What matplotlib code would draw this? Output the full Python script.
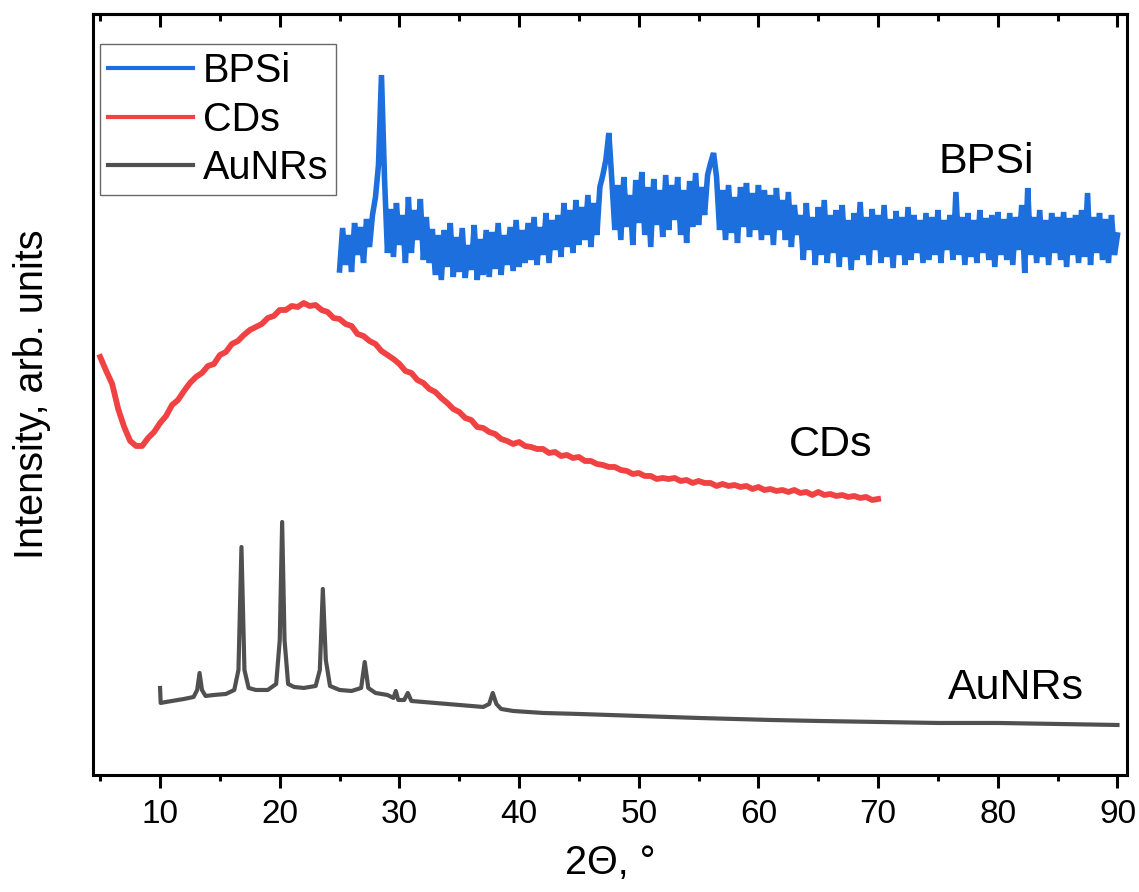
import matplotlib.pyplot as plt
import numpy as np

plt.rcParams['font.family'] = ['Liberation Sans', 'DejaVu Sans']

# AuNRs pattern (2theta, intensity)
aunrs_x = [10.0, 10.05, 10.5, 11.0, 12.0, 12.8, 13.1, 13.3, 13.5, 13.8,
           14.5, 15.5, 16.2, 16.55, 16.8, 17.05, 17.4, 18.0, 19.0, 19.7,
           20.0, 20.2, 20.4, 20.7, 21.2, 22.0, 23.0, 23.35, 23.6, 23.85,
           24.2, 25.0, 26.0, 26.8, 27.1, 27.4, 28.0, 29.0, 29.5, 29.7,
           29.9, 30.4, 30.7, 31.0, 32.0, 33.0, 34.0, 35.0, 36.0, 37.0,
           37.5, 37.8, 38.1, 38.5, 39.5, 42.0, 45.0, 50.0, 55.0, 61.0,
           65.0, 70.0, 75.0, 80.0, 85.0, 90.0]
aunrs_y = [87, 72, 73, 74, 76, 78, 85, 102, 85, 79,
           80, 81, 85, 105, 228, 105, 87, 85, 85, 91,
           135, 253, 135, 91, 88, 87, 89, 105, 186, 115,
           89, 85, 84, 87, 113, 87, 82, 80, 77, 84,
           75, 75, 82, 74, 73, 72, 71, 70, 69, 68,
           71, 82, 71, 66, 64, 62, 61, 59, 57, 55,
           54, 53, 52, 52, 51, 50]

# CDs pattern, 0.5 deg step starting at 5 deg
cds_start, cds_step = 5.0, 0.5
cds_y = [418, 404, 391, 366, 348, 334, 329, 329, 337, 343,
         352, 359, 370, 375, 384, 392, 398, 402, 409, 411,
         420, 423, 431, 434, 440, 445, 448, 451, 457, 459,
         465, 465, 469, 468, 472, 469, 470, 465, 463, 457,
         456, 451, 449, 441, 439, 434, 431, 424, 420, 416,
         411, 404, 402, 395, 392, 386, 383, 377, 372, 366,
         363, 357, 355, 348, 347, 343, 341, 336, 334, 331,
         333, 329, 328, 326, 326, 322, 323, 319, 320, 317,
         318, 314, 314, 311, 310, 308, 308, 305, 304, 301,
         302, 299, 299, 296, 297, 296, 297, 294, 295, 292,
         294, 292, 292, 289, 291, 289, 290, 288, 289, 286,
         288, 285, 286, 284, 285, 283, 285, 282, 283, 280,
         283, 280, 281, 279, 280, 278, 279, 277, 278, 275,
         276]

# BPSi pattern, 0.25 deg step starting at 25 deg
bpsi_start, bpsi_step = 25.0, 0.25
bpsi_y = [505, 547, 510, 540, 503, 552, 520, 548, 512, 556, 528, 560,
          578, 610, 700, 598,
          522, 566, 518, 572, 530, 560, 512, 578, 522, 565, 535, 576, 515, 558,
          512, 546, 500, 540, 495, 545, 508, 552, 498, 538,
          503, 547, 497, 530, 505, 550, 495, 536, 500, 545,
          498, 543, 506, 552, 500, 540, 510, 548, 504, 555,
          508, 545, 512, 552,
          515, 558, 510, 548, 520, 562, 512, 555, 525, 560,
          518, 572, 528, 565, 522, 575, 530, 568, 535, 580,
          528, 572, 540, 588,
          600, 615, 642, 595, 545,
          590, 535, 598, 548, 580, 530, 595, 552, 603, 540,
          588, 528, 596, 550, 585, 538, 600, 545, 590, 555,
          598, 540, 585, 532, 594, 548, 602, 550, 588, 560, 600,
          612, 622, 598, 545,
          585, 535, 590, 542, 578, 532, 588, 548, 592, 538,
          582, 545, 590, 535, 585, 540, 580, 530, 587, 545,
          575, 535, 583, 528, 570, 540,
          560, 515, 572, 525, 558, 510, 568, 520, 575, 512,
          560, 522, 565, 508, 570, 518, 555, 505, 562, 515,
          573, 520, 558, 510, 566, 525, 560, 512, 570, 518,
          556, 507, 564, 520, 558, 510, 568, 515, 560, 522,
          555, 512,
          562, 515, 558, 520, 565, 512, 555, 525, 560, 515,
          583, 520, 558, 510, 562, 518, 555, 512, 565, 522,
          557, 515, 560, 508, 563, 520, 556, 515, 562, 510,
          558, 525, 570, 502, 587, 520, 558, 512, 565, 518,
          555, 510, 562, 522, 558, 515, 563, 508, 557, 520,
          560, 512, 565, 518, 582, 510, 558, 522, 562, 515,
          556, 512, 560, 520, 540]

labels = ['BPSi', 'CDs', 'AuNRs']
colors = ['#1d6fdd', '#f04242', '#505050']

cds_x = cds_start + cds_step * np.arange(len(cds_y))
bpsi_x = bpsi_start + bpsi_step * np.arange(len(bpsi_y))

fig = plt.figure(figsize=(11.39, 8.92), dpi=100)
ax = fig.add_axes([0.0817, 0.1312, 0.9078, 0.8531])

ax.plot(bpsi_x, bpsi_y, color=colors[0], lw=4.0, label=labels[0],
        solid_joinstyle='bevel')
ax.plot(cds_x, cds_y, color=colors[1], lw=4.2, label=labels[1])
ax.plot(aunrs_x, aunrs_y, color=colors[2], lw=3.0, label=labels[2])

ax.text(79.0, 613, 'BPSi', fontsize=31, ha='center', va='center')
ax.text(66.0, 330, 'CDs', fontsize=31, ha='center', va='center')
ax.text(81.5, 87, 'AuNRs', fontsize=31, ha='center', va='center')

ax.set_xlim(4.4, 90.8)
ax.set_ylim(0, 761)
ax.set_xticks(np.arange(10, 91, 10))
ax.set_xticks(np.arange(5, 91, 10), minor=True)
ax.set_yticks([])
ax.tick_params(axis='x', which='major', direction='out', length=9.5,
               width=2.2, labelsize=24, pad=8)
ax.tick_params(axis='x', which='minor', direction='out', length=4.5,
               width=2.2)
for sp in ax.spines.values():
    sp.set_linewidth(2.2)

top = ax.secondary_xaxis('top')
top.set_xticks(np.arange(10, 91, 10))
top.set_xticks(np.arange(5, 91, 10), minor=True)
top.tick_params(which='major', direction='in', length=9.5, width=2.2,
                labeltop=False)
top.tick_params(which='minor', direction='in', length=5, width=2.2)
top.spines['top'].set_linewidth(2.2)

ax.set_xlabel('2Θ, °', fontsize=28.5, labelpad=10)
ax.set_ylabel('Intensity, arb. units', fontsize=28.5, labelpad=30)

leg = ax.legend(loc='upper left', bbox_to_anchor=(0.0068, 0.9606),
                borderaxespad=0, fontsize=28.5, handlelength=2.15,
                handletextpad=0.25, labelspacing=0.27, borderpad=0.2,
                fancybox=False, frameon=True)
leg.get_frame().set_edgecolor('#444444')
leg.get_frame().set_linewidth(1.0)
for line in leg.get_lines():
    line.set_linewidth(3.0)

plt.savefig('out.png', dpi=100)
plt.close()
